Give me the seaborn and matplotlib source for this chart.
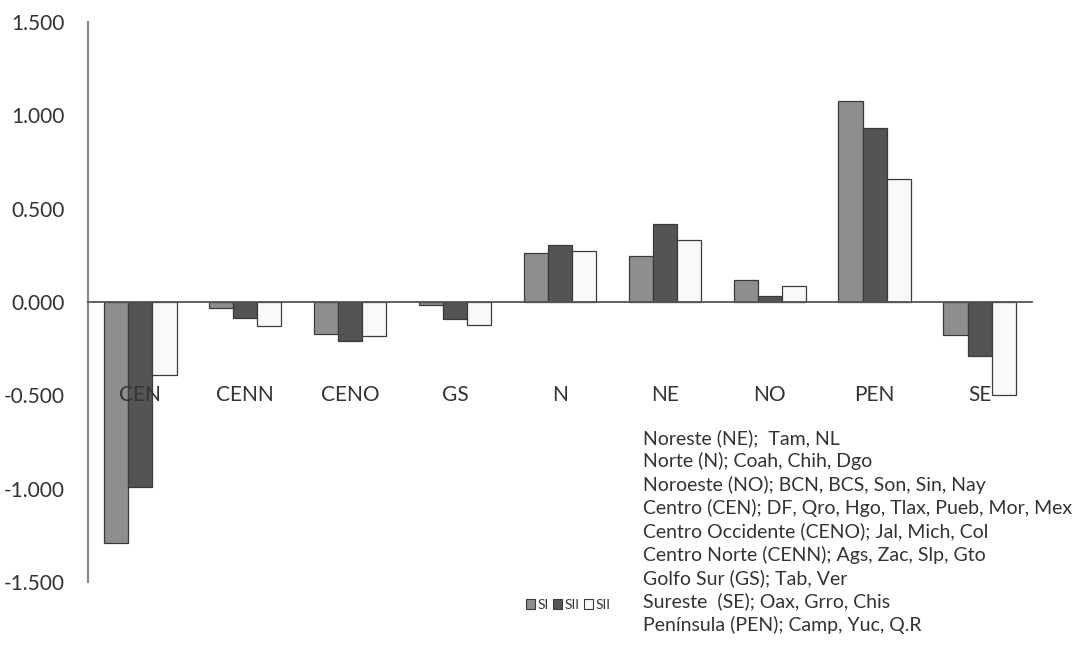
import numpy as np
import pandas as pd
import matplotlib
matplotlib.use('Agg')
import matplotlib.pyplot as plt
from matplotlib.ticker import FuncFormatter
from matplotlib.patches import Patch
import seaborn as sns

# Datos
regiones = ['CEN', 'CENN', 'CENO', 'GS', 'N', 'NE', 'NO', 'PEN', 'SE']
series = ['SI', 'SII', 'SIII']
leyenda = ['SI', 'SII', 'SII']
valores_si = [-1.289, -0.030, -0.173, -0.014, 0.262, 0.245, 0.116, 1.075, -0.179]
valores_sii = [-0.989, -0.084, -0.209, -0.089, 0.304, 0.418, 0.034, 0.932, -0.288]
valores_siii = [-0.393, -0.129, -0.182, -0.125, 0.275, 0.334, 0.084, 0.659, -0.500]
y_ticks = [-1.5, -1.0, -0.5, 0.0, 0.5, 1.0, 1.5]

nota = [
    'Noreste (NE);  Tam, NL',
    'Norte (N); Coah, Chih, Dgo',
    'Noroeste (NO); BCN, BCS, Son, Sin, Nay',
    'Centro (CEN); DF, Qro, Hgo, Tlax, Pueb, Mor, Mex',
    'Centro Occidente (CENO); Jal, Mich, Col',
    'Centro Norte (CENN); Ags, Zac, Slp, Gto',
    'Golfo Sur (GS); Tab, Ver',
    'Sureste  (SE); Oax, Grro, Chis',
    'Península (PEN); Camp, Yuc, Q.R',
]

df = pd.DataFrame({
    'region': regiones * 3,
    'serie': [series[0]] * 9 + [series[1]] * 9 + [series[2]] * 9,
    'valor': valores_si + valores_sii + valores_siii,
})

sns.set_style('white')
plt.rcParams['font.family'] = ['Lato', 'DejaVu Sans']
texto = '#333333'
colores = ['#8e8e8e', '#545454', '#f9f9f9']

fig = plt.figure(figsize=(10.82, 6.47), dpi=100)
ax = fig.add_axes([0.0813, 0.1005, 0.8725, 0.8655])

sns.barplot(data=df, x='region', y='valor', hue='serie', order=regiones,
            hue_order=series, palette=colores, width=0.69,
            edgecolor='#3a3a3a', linewidth=0.9, ax=ax, legend=False)

# las etiquetas de categoría van encima de las barras, como en el original
ax.set_axisbelow(False)

ax.set_ylim(-1.5, 1.5)
ax.set_xlim(-0.5, len(regiones) - 0.5)
ax.set_yticks(y_ticks)
ax.yaxis.set_major_formatter(FuncFormatter(lambda v, p: f'{v:.3f}'))
ax.tick_params(axis='y', labelsize=15, labelcolor=texto, length=4,
               color='#777777', direction='out', pad=13)
ax.set_xticks(np.arange(-0.5, len(regiones), 1.0), minor=True)
ax.tick_params(axis='x', which='minor', length=4, color='#777777', direction='out')
ax.tick_params(axis='x', which='major', length=0, labelsize=15,
               labelcolor=texto, pad=60)
ax.set_xlabel('')
ax.set_ylabel('')

for lado in ['top', 'right']:
    ax.spines[lado].set_visible(False)
ax.spines['left'].set_color('#8a8a8a')
ax.spines['left'].set_linewidth(1.6)
ax.spines['bottom'].set_position(('data', 0))
ax.spines['bottom'].set_color('#555555')
ax.spines['bottom'].set_linewidth(1.3)

manijas = [Patch(facecolor=c, edgecolor='#3a3a3a', linewidth=0.8) for c in colores]
fig.legend(manijas, leyenda, loc='center', bbox_to_anchor=(0.525, 0.065),
           ncol=3, frameon=False, fontsize=10, handlelength=0.7, handleheight=0.7,
           handletextpad=0.15, columnspacing=0.3, labelcolor=texto)

fig.text(0.594, 0.337, '\n'.join(nota), fontsize=14, color=texto,
         va='top', ha='left', linespacing=1.36)

fig.savefig('out.png', dpi=100, facecolor='white')
